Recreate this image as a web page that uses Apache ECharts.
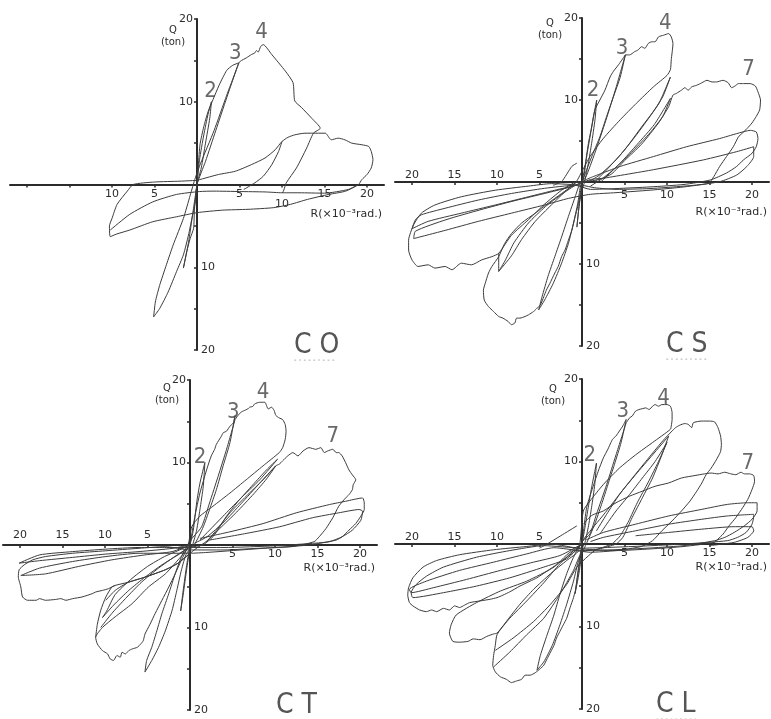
<!DOCTYPE html>
<html><head><meta charset="utf-8">
<script src="https://cdn.jsdelivr.net/npm/echarts@6/dist/echarts.min.js"></script>
<style>html,body{margin:0;padding:0;background:#fff}#c{width:771px;height:719px}</style>
</head><body><div id="c"></div>
<script>
// ---------- tick labels ----------
const xTickValues = [-20,-15,-10,-5,5,10,15,20];
const xPosLabels = [5,10,15,20];
const xNegLabels = [-20,-15,-10,-5];
const coNegLabels = [-10,-5];
const yTickValues = [-20,-15,-10,-5,5,10,15,20];
const yPosLabels = [10,20];
const yNegLabels = [-10,-20];
const panelNames = ['C O','C S','C T','C L'];

// ---------- C O ----------
const coCycle2 = [[0,0],[0.3,3],[0.8,6],[1.3,8.5],[1.7,10],[1.5,8],[1.0,5],[0.5,2],[0,0],[-0.3,-3],[-0.4,-5.3],[-0.8,-6.5],[-1.2,-8.1],[-1.6,-10.1],[-1.0,-7.0],[-0.5,-3.5],[0,0]];
const coCycle3 = [[0,0],[0.35,4.8],[0.8,7],[1.3,8.8],[1.9,10.3],[2.6,12],[3.5,13.8],[4.2,14.4],[4.9,14.7],[3.5,10.5],[2.2,6.5],[1.0,2.8],[0,0],[-0.2,-2.1],[-0.6,-4.1],[-1,-6.1],[-1.6,-8.5],[-2.4,-10.5],[-3.4,-13],[-4.4,-15],[-5.1,-16],[-4.9,-14.2],[-4.4,-12.2],[-3.6,-9.7],[-2.8,-7.3],[-1.6,-4.1],[-0.8,-1.3],[-0.2,0.8],[0.4,2.5],[2,6.5],[3.5,10.8],[4.9,14.6]];
const coCycle4 = [[4.9,14.6],[5.1,14.9],[5.8,15.3],[6.4,15.7],[6.8,15.9],[7.0,16.2],[7.2,16.0],[7.5,16.7],[7.8,16.9],[8.8,15.7],[10.4,13.7],[11.3,12.3],[11.5,10.1],[12.3,9.3],[13.5,8.0],[14.5,6.8],[13.7,6.2],[12.9,4.4],[11.7,2.0],[10.5,0.2],[10.0,-1.0],[8,-0.9],[5,-0.85],[2,-0.8],[0.3,-0.85],[-2.4,-1.2],[-5.2,-2.1],[-7.9,-3.6],[-10.2,-5.5]];
const coCycle10 = [[0,0.5],[2.5,1.2],[4.5,1.6],[6.4,2.4],[8,3.2],[9.2,4.2],[10,5.2],[10.7,5.7],[11.5,6],[12.7,6.2],[14.3,6.2],[15.1,6.2],[15.8,5.4],[16.6,5.6],[17.4,5.4],[18.2,5],[19.4,4.8],[20.2,4.6],[20.5,4],[20.7,3],[20.5,2],[20,1.2],[19.4,0.6],[19,0],[17.5,-0.8],[15.5,-1.2],[13,-1.8],[11,-2.4],[9,-2.8],[6,-3.0],[3,-3.1],[0,-3.4],[-2.4,-3.9],[-5.2,-4.5],[-7.9,-5.5],[-9.5,-6.0],[-10.2,-6.3],[-10.3,-5.0],[-10.0,-4.1],[-9.4,-2.4],[-8.2,-0.8],[-7.5,0],[-5,0.3],[-2,0.4],[0,0.5]];
const coUnload = [[10,5.2],[9.6,4.0],[8.8,2.4],[7.8,1.0],[6.8,0.2],[5.5,-0.6]];
const coReturn = [[10,-1],[12,-1.0],[15,-1.05],[17.8,-0.6],[19,0]];
const coNotes = [['2',1.6,11.3],['3',4.5,15.9],['4',7.6,18.4]];

// ---------- C S ----------
const csCycle2 = [[0,0],[0.2,0.5],[0.55,3.1],[0.94,5.5],[1.33,7.9],[1.73,10.0],[1.53,7.6],[1.13,4.7],[0.75,2.3],[0.3,0],[0,-1],[-0.3,-2.5],[-0.6,-5.5],[-0.4,-3.5],[-0.1,-1],[0,0]];
const csCycle3 = [[0,0],[0.35,1.9],[0.75,4.7],[1.14,6.7],[1.53,8.8],[2.1,10],[2.7,11.2],[3.3,12.8],[3.7,13.5],[4.3,14.3],[5.1,15.5],[4.5,12.8],[3.7,10.4],[2.9,8],[2.1,5.5],[1.3,3.5],[0.55,1.5],[0,0],[-0.2,-0.6],[-0.5,-2.6],[-1.0,-5.0],[-1.6,-7.5],[-2.4,-9.9],[-3.4,-12.4],[-4.4,-14.4],[-5.1,-15.6],[-4.7,-14.0],[-4.0,-11.5],[-3.2,-9.1],[-2.4,-6.7],[-1.6,-4.2],[-0.8,-1.8],[-0.24,-0.16],[0.4,0.5],[1.5,3.5],[2.8,7.5],[4.0,11.5],[5.1,15.5]];
const csCycle4 = [[5.1,15.5],[5.6,15.5],[6.2,15.9],[6.6,16.1],[7.0,16.5],[7.4,16.3],[7.8,16.9],[8.2,17.1],[8.6,17.1],[9.0,17.7],[9.6,17.9],[10.2,18.1],[10.5,17.7],[10.7,16.9],[10.5,14.9],[10.4,13.7],[10.0,13.0],[8.4,11.6],[6.4,9.6],[4.5,7.6],[2.5,5.3],[0.94,3.1],[0,1.3],[-0.8,-0.16],[-2.4,-1.4],[-4.0,-2.6],[-5.5,-3.8],[-7.1,-5.0],[-8.3,-6.3],[-9.1,-7.5],[-9.8,-9.1],[-10.6,-10.3],[-11.0,-11.1],[-11.4,-12.4],[-11.6,-13.2],[-11.5,-14.4],[-11.0,-15.2],[-10.4,-15.8],[-9.8,-16.4],[-9.3,-16.6],[-8.7,-17.0],[-8.3,-17.4],[-7.9,-17.2],[-7.7,-16.6],[-7.3,-16.6],[-6.7,-16.4],[-6.3,-16.2],[-5.7,-15.8],[-5.3,-15.4],[-4.9,-15.0],[-4.5,-14.0],[-4.2,-13.2],[-3.8,-12.4],[-3.2,-11.1],[-2.8,-10.3],[-2.4,-9.1],[-2.0,-8.3],[-1.6,-7.1],[-1.2,-5.9],[-0.8,-4.2],[-0.5,-3.0],[-0.2,-1.4],[0,0]];
const csRep10a = [[1.5,0],[3,1.6],[5,3.9],[7,6.7],[9,9.5],[10.4,12.8],[9.5,10.4],[8,8],[6,5.2],[4,2.7],[2,0.8],[0.5,0],[-0.5,0],[-1.8,-1.0],[-3.6,-2.8],[-5.5,-4.8],[-7.1,-7.0],[-8.3,-9.0],[-9.8,-10.9],[-9.0,-9.5],[-8.0,-7.4],[-6.3,-5.0],[-4.3,-3.0],[-2.4,-1.5],[-0.8,-0.4]];
const csRep10b = [[2.2,0],[4.5,2.3],[6.5,4.6],[8.5,7],[10.4,10.2],[9.5,8],[8,6],[6,3.8],[4,1.8],[2.5,0.5],[1,-0.5]];
const csRep10c = [[-9.8,-8.7],[-9.8,-10.9]];
const csCycle7 = [[0,0],[2,0.3],[3.5,1],[5,2.6],[7,4.6],[9,7.2],[10.2,9.2],[10.7,10.6],[11.1,10.8],[11.7,11.2],[12.1,11.5],[12.5,11.2],[12.9,11.6],[13.5,11.8],[14.1,12.1],[14.7,12.4],[15.3,12.2],[15.8,12.2],[16.6,12.4],[17.2,12.1],[17.6,11.5],[18.0,11.7],[18.4,12.0],[19.0,12.0],[19.8,12.0],[20.4,11.7],[20.7,11.0],[21.0,10.0],[20.9,8.8],[20.5,8.0],[20.0,7.2],[19.4,6.5],[18.8,5.9],[18.4,5.5],[17.8,4.3],[17.0,3.1],[16.2,1.9],[15.5,0.65],[14.9,-0.15],[12,-0.5],[8,-0.8],[4,-0.9],[1.5,-0.7],[0,-0.4],[-3.6,-0.2],[-6.3,-0.5],[-10.2,-1.0],[-14.2,-1.8],[-17.3,-2.8],[-18.9,-3.8],[-19.8,-5.2],[-20.4,-7.1],[-20.4,-8.3],[-20.0,-9.5],[-19.3,-10.3],[-18.1,-10.1],[-17.3,-10.5],[-16.1,-10.3],[-15.3,-10.7],[-14.2,-9.9],[-13.0,-10.1],[-11.8,-9.5],[-10.6,-9.1],[-9.8,-8.7],[-8.3,-6.5],[-6.3,-4.6],[-4.4,-2.7],[-2.4,-1.0],[-0.8,0]];
const csRep20a = [[1.3,0.65],[4.5,1.9],[8.4,3.1],[12.3,4.3],[16.2,5.3],[18.2,5.9],[19.8,6.3],[20.5,6.1],[20.7,5.3],[20.5,4.3],[20.0,3.5],[19.0,2.7],[18.2,1.9],[17.0,1.1],[15.1,0.25],[12,-0.3],[8,-0.6],[4,-0.8],[1,-0.9],[-0.8,-0.4],[-4.4,-0.77],[-8.3,-1.4],[-12.2,-2.2],[-16.1,-3.2],[-18.9,-4.0],[-19.6,-4.6],[-20.0,-5.7],[-18.1,-4.8],[-14.2,-3.8],[-10.2,-2.8],[-6.3,-1.8],[-3.2,-1.0],[-0.8,-0.4],[0.5,0.3],[1.3,0.65]];
const csRep20b = [[2.5,0.45],[8.4,1.5],[14.3,2.7],[18.2,3.7],[20.2,4.3],[20.2,3.1],[19.4,1.9],[18.2,0.85],[16.2,0.04],[12,-0.6],[8,-1.0],[4,-1.3],[1,-1.5],[-1.6,-2.0],[-4.4,-2.8],[-8.3,-3.8],[-12.2,-4.8],[-16.1,-5.9],[-19.8,-6.9],[-19.6,-6.0],[-16,-4.6],[-12,-3.4],[-8,-2.3],[-4,-1.3],[-1,-0.5],[1,0.3],[2.5,0.45]];
const csCross = [[-3.4,-0.4],[-2.4,0.04],[-1.2,1.9],[-0.6,2.3]];
const csNotes = [['2',1.3,11.2],['3',4.7,16.3],['4',9.8,19.3],['7',19.6,13.7]];

// ---------- C T ----------
const ctCycle2 = [[0,0],[0.39,1.8],[0.78,5.1],[1.17,7.5],[1.75,10],[1.56,7.1],[1.17,4.3],[0.78,1.8],[0.3,0],[0,-0.5],[-0.4,-3],[-0.8,-6],[-1.1,-8],[-0.8,-5.5],[-0.4,-2.5],[0,0]];
const ctCycle3 = [[0,0],[0.58,3.5],[1.17,6.3],[1.95,9.1],[2.5,10.8],[2.9,11.6],[3.1,12.2],[3.7,13.2],[3.9,13.6],[4.3,13.8],[4.7,14.4],[5.1,14.8],[5.3,15.7],[4.7,12.4],[3.9,9.6],[3.1,6.7],[2.3,4.3],[1.56,2.2],[0.5,0],[-0.4,-1.0],[-1.0,-3.0],[-1.55,-5.5],[-2.1,-7.9],[-2.9,-10.4],[-3.7,-12.4],[-4.5,-14.0],[-5.3,-15.4],[-5.1,-14.0],[-4.5,-12.4],[-3.9,-10.4],[-3.3,-8.3],[-2.5,-5.9],[-1.75,-3.5],[-1.0,-1.4],[0,0.5],[1.36,2.2],[2.3,5.1],[3.3,8.3],[4.3,11.6],[5.3,15.2]];
const ctCycle4 = [[5.3,15.2],[5.65,15.7],[6.0,16.1],[6.4,16.3],[6.8,16.5],[7.0,16.7],[7.4,16.8],[7.6,17.1],[8.2,17.3],[8.8,17.3],[9.2,16.5],[9.6,16.7],[9.9,16.3],[10.1,15.7],[10.5,15.4],[10.9,15.2],[11.2,14.6],[11.3,13.8],[11.2,12.8],[10.9,11.8],[10.5,11.2],[8.6,9.6],[6.6,7.9],[4.7,6.3],[2.7,4.7],[1.17,3.5],[0.2,2.2],[-0.3,-0.4],[-1.4,-1.8],[-2.9,-3.5],[-4.9,-5.1],[-6.8,-7.1],[-8.8,-8.7],[-10.3,-10.0],[-11.1,-11.2],[-10.9,-12.0],[-10.3,-12.8],[-9.7,-13.2],[-9.4,-13.8],[-9.0,-14.0],[-8.6,-13.4],[-8.2,-13.6],[-8.0,-13.0],[-7.6,-13.2],[-7.2,-12.8],[-6.8,-12.6],[-6.2,-12.4],[-5.8,-12.0],[-5.5,-11.6],[-5.3,-10.8],[-4.7,-9.6],[-4.1,-8.3],[-3.3,-6.7],[-2.5,-5.1],[-1.75,-3.5],[-1.0,-1.8],[-0.4,-0.6],[0,0]];
const ctRep10a = [[1.17,0.6],[2.3,1.8],[3.9,3.5],[5.8,5.5],[8.2,7.9],[10.3,10.4],[9.0,9.1],[7.4,7.3],[5.5,5.1],[4.3,3.5],[3.5,2.2],[2.7,1.0],[1.5,0],[0,-0.3],[-1.4,-1.2],[-3.3,-2.4],[-5.3,-3.9],[-7.2,-5.5],[-9.0,-7.3],[-10.3,-8.8],[-9.8,-8.0],[-8.8,-6.0],[-7.0,-4.2],[-5.0,-2.6],[-3.0,-1.4],[-1.0,-0.5],[0,0]];
const ctRep10b = [[1.95,0.4],[3.1,1.8],[4.7,3.9],[6.6,5.9],[8.6,7.9],[10.1,9.6],[9.0,8.0],[7.5,6.2],[5.5,4.0],[3.5,2.0],[2.0,0.5],[0.5,-0.6],[-1.4,-2.2],[-2.9,-3.0],[-5.3,-3.9],[-7.2,-4.5],[-8.8,-5.5],[-9.9,-6.7]];
const ctRep10c = [[-10.5,-10.0],[-9.2,-8.3],[-7.6,-6.5],[-5.7,-4.5],[-3.7,-2.8],[-1.8,-1.4],[-0.3,-0.4]];
const ctLobeEdge = [[-8.8,-4.9],[-9.2,-5.1],[-9.9,-6.3],[-10.5,-7.9],[-10.9,-9.6],[-11.1,-11.2]];
const ctCycle7 = [[0.5,0.2],[2.0,1.0],[4.0,2.8],[6.0,5.0],[8.2,7.5],[10.1,9.6],[10.5,9.8],[10.9,10.2],[11.5,10.8],[12.1,11.2],[12.7,10.8],[13.3,11.4],[14.0,11.8],[14.8,11.6],[15.4,11.8],[15.8,11.2],[16.2,11.4],[16.8,11.6],[17.2,11.2],[17.5,11.2],[17.9,10.8],[18.3,10.0],[18.7,9.1],[19.1,8.5],[19.5,7.9],[19.2,7.3],[19.1,6.7],[18.7,6.1],[18.3,5.7],[17.5,4.7],[16.8,3.3],[16.0,2.0],[15.2,1.0],[14.6,0.4],[12,-0.2],[8,-0.4],[4,-0.6],[0,-0.6],[-2.9,-0.2],[-6.0,-0.4],[-9.9,-0.7],[-13.8,-1.0],[-17.0,-1.4],[-18.5,-1.8],[-19.5,-2.4],[-20.1,-3.0],[-20.2,-3.9],[-20.0,-4.7],[-19.9,-5.1],[-19.7,-6.3],[-19.1,-6.7],[-18.1,-6.7],[-17.7,-6.5],[-17.0,-6.7],[-15.8,-6.6],[-15.2,-6.5],[-14.6,-6.7],[-13.8,-6.5],[-12.7,-6.3],[-11.5,-5.9],[-11.1,-5.7],[-10.3,-5.5],[-9.6,-5.3],[-8.8,-4.9],[-7.2,-4.5],[-5.3,-3.9],[-2.9,-3.0],[-1.4,-2.2],[0,-1]];
const ctRep20a = [[1.17,0.8],[4.7,1.6],[8.6,2.6],[12.5,3.9],[16.4,4.9],[18.3,5.3],[20.3,5.7],[20.5,5.1],[20.5,4.3],[20.1,3.5],[19.5,2.6],[18.7,1.8],[17.9,1.0],[17.2,0.6],[14,0.0],[10,-0.3],[6,-0.6],[2,-0.9],[0,-1.0],[-6.0,-1.0],[-9.9,-1.4],[-13.8,-2.0],[-17.7,-2.8],[-19.9,-3.7],[-17.0,-3.5],[-13.1,-2.6],[-9.2,-1.8],[-5.3,-1.2],[-2.1,-0.8],[0,0]];
const ctRep20b = [[2.3,0.6],[6.6,1.4],[10.5,2.2],[14.4,3.3],[17.5,3.9],[19.9,4.3],[20.3,4.1],[20.1,3.0],[19.1,1.8],[17.9,1.0],[16.4,0.4],[14.4,0.2],[10,-0.1],[4,-0.3],[0,-0.3],[-3,-0.3],[-6.0,-0.3],[-9.9,-0.5],[-13.8,-0.8],[-17.7,-1.2],[-20.1,-2.2],[-17.7,-1.9],[-13.8,-1.5],[-9.9,-1.1],[-6,-0.8],[-2,-0.4],[0,0]];
const ctNotes = [['2',1.17,10.6],['3',5.1,16.1],['4',8.6,18.5],['7',16.8,13.2]];

// ---------- C L ----------
const clCycle2 = [[0,0],[0.35,2.0],[0.73,4.4],[1.12,6.8],[1.7,9.8],[1.5,7.2],[1.12,4.4],[0.73,2.0],[0.3,0],[0,-0.5],[-0.3,-2.5],[-0.6,-4.5],[-0.8,-6],[-0.5,-3.5],[-0.2,-1.2],[0,0]];
const clCycle3 = [[0,0],[0.54,4.4],[1.12,6.4],[1.9,8.8],[2.5,10.4],[3.05,11.5],[3.4,12.3],[3.6,12.7],[4.0,13.1],[4.4,13.7],[4.8,14.3],[5.2,15.1],[4.6,12.3],[3.8,9.6],[3.05,7.2],[2.3,4.8],[1.5,2.4],[0.5,0],[-0.4,-2.0],[-1.0,-4.5],[-1.8,-7.3],[-2.6,-9.8],[-3.5,-12.3],[-4.5,-14.3],[-5.3,-15.3],[-4.9,-13.5],[-4.1,-11.0],[-3.3,-8.6],[-2.6,-6.1],[-1.8,-3.6],[-1.0,-1.6],[0,0.3],[0.93,1.2],[1.7,3.6],[2.9,7.2],[4.0,10.8],[5.2,14.7]];
const clCycle4 = [[5.2,14.7],[5.6,15.3],[5.9,15.5],[6.3,16.1],[6.7,16.3],[7.1,16.4],[7.5,16.5],[7.9,16.3],[8.3,16.7],[8.6,16.9],[9.0,16.7],[9.4,16.9],[10.0,16.9],[10.4,16.7],[10.6,15.9],[10.6,15.1],[10.5,14.3],[10.4,13.9],[8.3,12.3],[6.3,10.8],[4.4,9.2],[2.5,7.2],[0.93,5.2],[0.15,4.0],[-0.4,-0.8],[-1.8,-2.0],[-3.7,-3.6],[-5.7,-5.5],[-7.3,-7.3],[-8.9,-9.4],[-10.0,-11.0],[-10.2,-12.3],[-10.4,-13.5],[-10.5,-14.7],[-10.2,-15.5],[-9.6,-16.1],[-8.9,-16.4],[-8.3,-16.8],[-7.7,-16.6],[-7.1,-16.4],[-6.7,-15.9],[-6.1,-15.9],[-5.5,-15.6],[-4.9,-15.1],[-4.5,-14.7],[-4.1,-13.9],[-3.7,-13.1],[-3.3,-12.3],[-3.0,-11.4],[-2.6,-10.6],[-2.2,-9.8],[-1.8,-9.0],[-1.4,-7.7],[-1.0,-6.5],[-0.6,-4.9],[-0.3,-3.2],[-0.1,-1.6],[0,0]];
const clRep10a = [[1.7,1.6],[2.9,3.6],[4.4,6.0],[6.3,8.4],[8.3,10.8],[10.2,13.1],[9.4,10.8],[8.3,8.0],[7.1,5.6],[5.9,3.2],[4.8,0.8],[4,0],[2,-0.6],[0,-1.0],[-1.0,-3.2],[-2.6,-6.1],[-4.5,-9.0],[-6.5,-11.0],[-8.5,-13.1],[-10.4,-14.9]];
const clRep10b = [[2.1,1.2],[2.9,2.4],[4.0,4.0],[5.6,6.0],[7.1,8.0],[8.6,10.0],[10.0,12.3],[9.0,10.0],[7.8,7.5],[6.5,5.0],[5.5,2.8],[4.5,1.0],[3.5,0],[1.5,-0.8],[-0.6,-2.8],[-1.8,-4.9],[-3.7,-7.3],[-5.7,-9.4],[-8.1,-11.4],[-10.2,-12.9]];
const clCycle5 = [[-0.5,-0.5],[0.5,1],[2.5,3.5],[5,6.8],[7.5,10],[9.5,12.5],[10.6,13.7],[11.0,14.1],[11.5,14.4],[12.1,14.6],[12.5,14.5],[12.9,14.1],[13.1,14.7],[14.1,14.9],[15.0,14.9],[15.6,14.8],[16.0,14.1],[16.3,13.1],[16.4,12.1],[16.3,11.2],[15.8,10.2],[15.2,9.2],[14.6,8.4],[14.1,7.4],[13.5,6.4],[12.7,5.2],[11.7,4.0],[10.6,2.8],[9.4,1.6],[8.3,0.4],[7,-0.3],[4,-0.8],[1,-1.0],[-1.0,-0.8],[-3.3,-2.8],[-6.5,-4.5],[-9.6,-5.7],[-12.4,-7.1],[-14.8,-8.6],[-15.4,-9.8],[-15.6,-10.8],[-15.2,-11.8],[-14.4,-11.9],[-13.4,-11.8],[-12.8,-11.5],[-12.0,-11.6],[-11.2,-11.2],[-10.4,-10.9],[-10.0,-10.8],[-8.5,-9.0],[-6.5,-6.9],[-4.5,-4.7],[-2.6,-2.4],[-1.0,-0.8],[0,0]];
const clCycle7 = [[0.2,2.5],[1.2,3.5],[2.5,4.0],[4.0,5.0],[5.6,5.8],[7.1,6.4],[8.6,7.0],[10.2,7.4],[11.7,8.0],[13.3,8.3],[14.4,8.5],[15.2,8.6],[16.0,8.5],[16.8,8.7],[17.5,8.5],[18.1,8.4],[18.7,8.7],[19.1,8.5],[19.7,8.5],[20.2,8.3],[20.3,7.6],[20.0,6.6],[19.5,5.4],[18.9,4.4],[18.1,3.2],[17.3,2.2],[16.6,1.2],[16.0,0.6],[15.6,0.2],[12,-0.3],[8,-0.6],[4,-0.8],[0,-0.6],[-3.7,0.0],[-6.5,-0.3],[-10.4,-0.7],[-14.4,-1.3],[-17.1,-2.0],[-18.7,-2.8],[-19.9,-4.1],[-20.4,-5.3],[-20.5,-6.2],[-20.3,-7.1],[-19.9,-7.5],[-19.1,-8.0],[-18.3,-8.2],[-17.7,-8.0],[-17.1,-8.2],[-16.3,-7.8],[-15.6,-8.0],[-15.0,-7.5],[-14.4,-7.7],[-13.8,-7.4],[-13.2,-7.1],[-12.0,-6.9],[-10.8,-6.7],[-10.0,-6.5],[-9.3,-6.2],[-8.5,-5.8],[-7.3,-5.1],[-6.1,-4.5],[-5.3,-4.1],[-3.0,-2.5],[-1,-1],[0,0]];
const clRep20a = [[0.5,0.5],[2.5,1.4],[6.3,2.4],[10.2,3.4],[14.1,4.2],[17.1,4.8],[19.5,5.0],[20.6,5.0],[20.6,4.0],[20.0,3.0],[19.1,2.2],[17.9,1.4],[16.8,0.8],[15.6,0.4],[12,-0.2],[6,-0.6],[0,-0.8],[-3.3,-0.45],[-6.5,-1.2],[-10.4,-2.2],[-14.4,-3.2],[-18.3,-4.5],[-20.3,-5.5],[-20.1,-5.9],[-17.5,-5.3],[-13.6,-4.3],[-9.6,-3.2],[-5.7,-2.2],[-2.6,-1.4],[0,0]];
const clRep20b = [[1,0.3],[2.5,0.8],[6.3,1.6],[10.2,2.4],[14.1,3.0],[17.1,3.4],[20.2,3.6],[20.2,3.4],[20.0,2.4],[19.3,1.4],[18.3,0.8],[17.1,0.4],[12,0],[6,-0.3],[0,-0.5],[-4.5,-0.2],[-8.5,-0.8],[-12.4,-1.6],[-16.3,-2.8],[-18.3,-3.9],[-19.5,-4.9],[-20.1,-5.9],[-19.9,-6.5],[-16.3,-5.9],[-12.4,-5.1],[-8.5,-4.1],[-4.5,-2.8],[-1.8,-1.8],[0,0]];
const clRep20c = [[6.3,1.0],[10.2,1.4],[14.1,1.8],[17.9,2.1],[20.0,2.1],[20.2,1.6],[19.5,0.8],[17.9,0.2],[15,-0.2]];
const clCross = [[-5,-0.5],[-4.1,0],[-2.5,1],[-0.6,2.2]];
const clNotes = [['2',0.93,10.8],['3',4.8,16.1],['4',9.6,17.7],['7',19.5,9.8]];

// ---------- layout ----------
const panels = [
  {curves:[coCycle2,coCycle3,coCycle4,coCycle10,coUnload,coReturn], notes:coNotes, negLabels:coNegLabels, negAbove:false,
   grid:{left:10,top:19,width:374,height:331}, lblMargin:4, negMargin:4, rPad:24, qGap:-29, qPad:48, title:{left:294,top:332}},
  {curves:[csCycle2,csCycle3,csCycle4,csRep10a,csRep10b,csRep10c,csCycle7,csRep20a,csRep20b,csCross], notes:csNotes, negLabels:xNegLabels, negAbove:true,
   grid:{left:395,top:18,width:374,height:328}, lblMargin:8, negMargin:1, rPad:25, qGap:-23, qPad:64, title:{left:666,top:331}},
  {curves:[ctCycle2,ctCycle3,ctCycle4,ctRep10a,ctRep10b,ctRep10c,ctLobeEdge,ctCycle7,ctRep20a,ctRep20b], notes:ctNotes, negLabels:xNegLabels, negAbove:true,
   grid:{left:3,top:380,width:374,height:330}, lblMargin:4, negMargin:4, rPad:18, qGap:-26, qPad:46, title:{left:276,top:692}},
  {curves:[clCycle2,clCycle3,clCycle4,clRep10a,clRep10b,clCycle5,clCycle7,clRep20a,clRep20b,clRep20c,clCross], notes:clNotes, negLabels:xNegLabels, negAbove:true,
   grid:{left:395,top:379,width:374,height:330}, lblMargin:4, negMargin:1, rPad:18, qGap:-28, qPad:58, title:{left:656,top:691}}
];

const FONT = "'DejaVu Sans', 'Liberation Sans', sans-serif";
const NARROW = "'Liberation Sans Narrow', 'DejaVu Sans Condensed', 'Liberation Sans', sans-serif";
const INK = '#2b2b2b';
const LINE = '#3c3c3c';
const abs = v => String(Math.abs(v));

const option = {animation:false, backgroundColor:'#fff', title:[], grid:[], xAxis:[], yAxis:[], series:[]};

panels.forEach((p, i) => {
  const g = p.grid;
  const xOff = -g.height / 2;   // moves the x axis up to Q = 0 (symmetric range)
  const yOff = -g.width / 2;    // moves the y axis right to R = 0 (symmetric range)
  option.grid.push(Object.assign({containLabel:false, outerBoundsMode:'none'}, g));
  option.title.push({
    text: panelNames[i], subtext: '- - - - - - - - -', left: p.title.left, top: p.title.top, padding: 0, itemGap: -3,
    textStyle: {fontFamily: NARROW, fontSize: 28, fontWeight: 'normal', color: '#555'},
    subtextStyle: {fontFamily: FONT, fontSize: 7, color: '#777'}
  });
  const xa = option.xAxis.length;
  option.xAxis.push({
    type:'value', gridIndex:i, min:-22, max:22, position:'bottom', offset:xOff, splitLine:{show:false},
    axisLine:{onZero:false, lineStyle:{color:INK, width:2}},
    axisTick:{show:true, customValues:xTickValues, length:3, lineStyle:{color:INK, width:1.5}},
    axisLabel:{customValues: p.negAbove ? xPosLabels : p.negLabels.concat(xPosLabels), margin:p.lblMargin,
      formatter: v => (!p.negAbove && v === 10) ? '{low|10}' : abs(v),
      rich:{low:{padding:[10,0,0,0], fontSize:11, fontFamily:FONT, color:INK}},
      fontSize:11, fontFamily:FONT, color:INK},
    name:'R(×10⁻³rad.)', nameLocation:'end', nameGap:-2, nameMoveOverlap:false,
    nameTextStyle:{align:'right', verticalAlign:'top', padding:[p.rPad,0,0,0], fontSize:11, fontFamily:FONT, color:INK}
  });
  if (p.negAbove) {
    option.xAxis.push({
      type:'value', gridIndex:i, min:-22, max:22, position:'bottom', offset:xOff, splitLine:{show:false},
      axisLine:{show:false, onZero:false}, axisTick:{show:false},
      axisLabel:{inside:true, customValues:p.negLabels, formatter:abs, margin:p.negMargin, fontSize:11, fontFamily:FONT, color:INK}
    });
  }
  const ya = option.yAxis.length;
  option.yAxis.push({
    type:'value', gridIndex:i, min:-20, max:20, position:'left', offset:yOff, splitLine:{show:false},
    axisLine:{onZero:false, lineStyle:{color:INK, width:2}},
    axisTick:{show:true, customValues:yTickValues, length:3, lineStyle:{color:INK, width:1.5}},
    axisLabel:{customValues:yPosLabels, formatter:abs, margin:4, fontSize:11, fontFamily:FONT, color:INK},
    name:'Q\n(ton)', nameLocation:'end', nameGap:p.qGap, nameMoveOverlap:false,
    nameTextStyle:{align:'center', verticalAlign:'bottom', padding:[0,p.qPad,0,0], fontSize:10, lineHeight:12, fontFamily:FONT, color:INK}
  });
  option.yAxis.push({
    type:'value', gridIndex:i, min:-20, max:20, position:'left', offset:yOff, splitLine:{show:false},
    axisLine:{show:false, onZero:false}, axisTick:{show:false},
    axisLabel:{inside:true, customValues:yNegLabels, formatter:abs, margin:4, fontSize:11, fontFamily:FONT, color:INK}
  });
  p.curves.forEach(c => {
    option.series.push({type:'line', xAxisIndex:xa, yAxisIndex:ya, data:c, symbol:'none', smooth:0.2, silent:true,
      lineStyle:{color:LINE, width:1}, z:3});
  });
  option.series.push({type:'scatter', xAxisIndex:xa, yAxisIndex:ya, silent:true, symbolSize:1,
    itemStyle:{color:'rgba(0,0,0,0)'},
    data:p.notes.map(n => ({name:n[0], value:[n[1], n[2]]})),
    label:{show:true, position:'inside', formatter:'{b}', fontSize:22, fontFamily:NARROW, color:'#444'}, z:4});
});

const chart = echarts.init(document.getElementById('c'), null, {renderer:'canvas'});
chart.setOption(option);
</script>
</body></html>
